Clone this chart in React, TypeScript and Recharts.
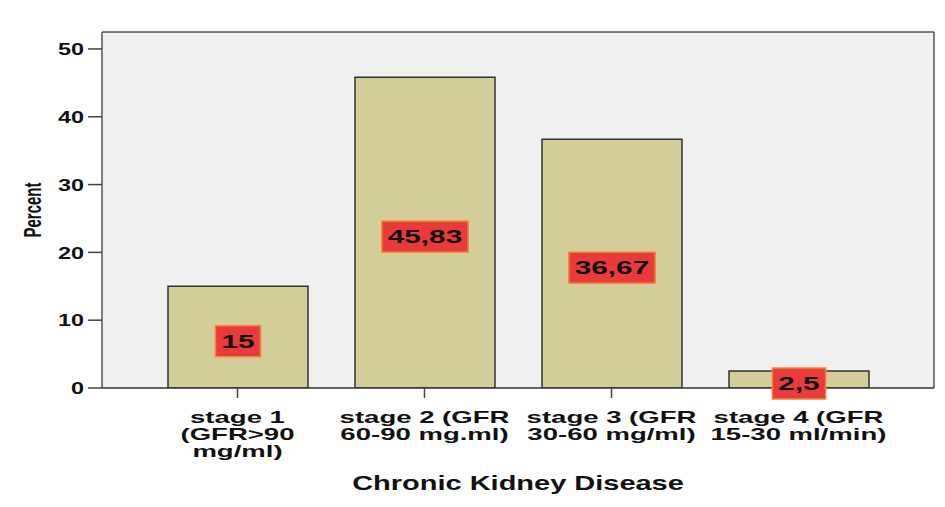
import React from "react";
import { BarChart, Bar, XAxis, YAxis, CartesianGrid, LabelList } from "recharts";

const categories = [
  "stage 1 (GFR>90 mg/ml)",
  "stage 2 (GFR 60-90 mg.ml)",
  "stage 3 (GFR 30-60 mg/ml)",
  "stage 4 (GFR 15-30 ml/min)",
];
const tickLines = [
  ["stage 1", "(GFR>90", "mg/ml)"],
  ["stage 2 (GFR", "60-90 mg.ml)"],
  ["stage 3 (GFR", "30-60 mg/ml)"],
  ["stage 4 (GFR", "15-30 ml/min)"],
];
const percents = [15, 45.83, 36.67, 2.5];
const yTicks = [0, 10, 20, 30, 40, 50];
const xTitle = "Chronic Kidney Disease";
const yTitle = "Percent";

const data = categories.map((name, i) => ({ name, value: percents[i] }));

const FONT = '"Liberation Sans", Arial, Helvetica, sans-serif';

const YTick = (props: any) => {
  const { x, y, payload } = props;
  return (
    <text
      transform={`translate(${x},${y}) scale(1.38,1)`}
      textAnchor="end"
      dy="0.36em"
      fontFamily={FONT}
      fontWeight="bold"
      fontSize={17}
      fill="#111"
    >
      {payload.value}
    </text>
  );
};

const XTick = (props: any) => {
  const { x, payload } = props;
  const lines = tickLines[payload.index] || [];
  return (
    <text
      transform={`translate(${x},388) scale(1.62,1)`}
      textAnchor="middle"
      fontFamily={FONT}
      fontWeight="bold"
      fontSize={17}
      fill="#111"
    >
      {lines.map((l, i) => (
        <tspan key={i} x={0} y={35 + i * 17.2}>
          {l}
        </tspan>
      ))}
    </text>
  );
};

const XTitle = (props: any) => {
  const { viewBox } = props;
  const cx = viewBox.x + viewBox.width / 2;
  return (
    <text
      transform={`translate(${cx},490) scale(1.38,1)`}
      textAnchor="middle"
      fontFamily={FONT}
      fontWeight="bold"
      fontSize={21}
      fill="#111"
    >
      {xTitle}
    </text>
  );
};

const YTitle = (props: any) => {
  const { viewBox } = props;
  const cy = viewBox.y + viewBox.height / 2;
  return (
    <text
      transform={`translate(32,${cy}) scale(1.6,1) rotate(-90)`}
      textAnchor="middle"
      dy="0.36em"
      fontFamily={FONT}
      fontWeight="bold"
      fontSize={15}
      fill="#111"
    >
      {yTitle}
    </text>
  );
};

const charW = (s: string) =>
  s.split("").reduce((acc, c) => acc + (c === "," || c === "." ? 0.278 : 0.556), 0);

const ValueLabel = (props: any) => {
  const { x, y, width, height, value } = props;
  const txt = String(value).replace(".", ",");
  const sx = 1.65;
  const fs = 18;
  const tw = charW(txt) * fs * sx;
  const bw = tw + 12;
  const bh = 31;
  const cx = x + width / 2;
  const cy = y + height / 2 + 4;
  return (
    <g>
      <rect
        x={cx - bw / 2}
        y={cy - bh / 2}
        width={bw}
        height={bh}
        fill="#ea3a3a"
        stroke="#f0883a"
        strokeWidth={1.5}
      />
      <text
        transform={`translate(${cx},${cy}) scale(${sx},1)`}
        textAnchor="middle"
        dy="0.36em"
        fontFamily={FONT}
        fontWeight="bold"
        fontSize={fs}
        fill="#111"
      >
        {txt}
      </text>
    </g>
  );
};

export default function App() {
  return (
    <div style={{ position: "absolute", left: 0, top: 0, background: "#fff" }}>
      <BarChart
        width={945}
        height={507}
        data={data}
        margin={{ top: 31, right: 10, left: 0, bottom: 0 }}
      >
        <CartesianGrid fill="#f0f0f0" stroke="none" horizontal={false} vertical={false} />
        <XAxis
          dataKey="name"
          height={119}
          padding={{ left: 42, right: 42 }}
          tickSize={10}
          tickLine={{ stroke: "#444", strokeWidth: 1.5 }}
          axisLine={{ stroke: "#333", strokeWidth: 1.5 }}
          tick={<XTick />}
          interval={0}
          label={<XTitle />}
        />
        <XAxis
          xAxisId="top"
          dataKey="name"
          orientation="top"
          height={1}
          tick={false}
          tickLine={false}
          axisLine={{ stroke: "#555", strokeWidth: 1.5 }}
        />
        <YAxis
          width={102}
          domain={[0, 52.5]}
          ticks={yTicks}
          allowDataOverflow
          tickSize={14}
          tickMargin={4}
          tickLine={{ stroke: "#444", strokeWidth: 1.5 }}
          axisLine={{ stroke: "#555", strokeWidth: 1.5 }}
          tick={<YTick />}
          label={<YTitle />}
        />
        <YAxis
          yAxisId="right"
          orientation="right"
          width={1}
          domain={[0, 52.5]}
          tick={false}
          tickLine={false}
          axisLine={{ stroke: "#555", strokeWidth: 1.5 }}
        />
        <Bar
          dataKey="value"
          fill="#d2cd99"
          stroke="#333"
          strokeWidth={1.5}
          barSize={140}
          isAnimationActive={false}
        >
          <LabelList dataKey="value" content={<ValueLabel />} />
        </Bar>
      </BarChart>
    </div>
  );
}
